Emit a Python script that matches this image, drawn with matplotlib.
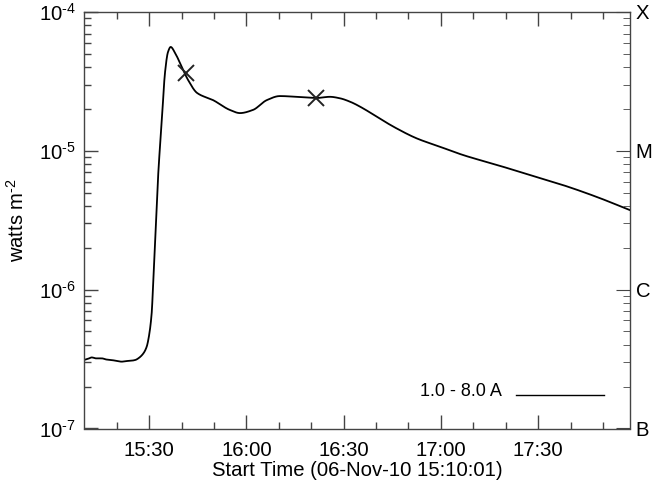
import matplotlib
matplotlib.use("Agg")
import matplotlib.pyplot as plt
import numpy as np
from matplotlib.ticker import FixedLocator, FuncFormatter, LogLocator, NullFormatter

plt.rcParams['font.family'] = ['Liberation Sans', 'DejaVu Sans']
plt.rcParams['mathtext.fontset'] = 'custom'
plt.rcParams['mathtext.rm'] = 'Liberation Sans'
plt.rcParams['mathtext.it'] = 'Liberation Sans:italic'
plt.rcParams['mathtext.bf'] = 'Liberation Sans:bold'

# minutes after 15:10:01
t_min = [0.0, 1.2, 2.3, 3.6, 5.4, 6.8, 8.45, 10.0, 11.5, 13.0, 14.6, 15.8, 16.65,
         18.2, 19.24, 19.73, 20.78, 21.28, 22.02, 22.82, 23.87, 24.88, 25.81,
         26.64, 28.0, 29.5, 32.0, 34.8,
         39.7, 44.9, 48.0, 52.0, 56.3, 60.3, 66.5, 71.4, 75.76, 78.85, 81.93,
         86.03, 90.16, 96.33, 102.5, 109.7, 116.8, 127.3, 137.4, 147.6, 158.1, 168.3]
flux = [3.12e-7, 3.18e-7, 3.25e-7, 3.2e-7, 3.2e-7, 3.14e-7, 3.11e-7, 3.07e-7, 3.03e-7,
        3.06e-7, 3.08e-7, 3.12e-7, 3.2e-7,
        3.47e-7, 3.88e-7, 4.34e-7, 6.77e-7, 1.17e-6, 2.69e-6, 6.92e-6, 1.59e-5,
        3.64e-5, 5.15e-5, 5.60e-5, 5.07e-5, 4.30e-5, 3.24e-5, 2.61e-5,
        2.32e-5, 1.97e-5, 1.87e-5, 1.97e-5, 2.32e-5, 2.48e-5, 2.44e-5, 2.40e-5,
        2.45e-5, 2.39e-5, 2.26e-5,
        2.02e-5, 1.76e-5, 1.45e-5, 1.23e-5, 1.07e-5, 9.33e-6, 7.91e-6, 6.70e-6,
        5.67e-6, 4.65e-6, 3.74e-6]

mark_t = [31.4, 71.4]
mark_flux = [3.64e-5, 2.40e-5]

x_major_t = [19.98, 49.98, 79.98, 109.98, 139.98]
x_major_labels = ['15:30', '16:00', '16:30', '17:00', '17:30']
x_minor_t = [-0.02, 9.98, 29.98, 39.98, 59.98, 69.98, 89.98, 99.98,
             119.98, 129.98, 149.98, 159.98]
right_labels = ['B', 'C', 'M', 'X']
right_levels = [1e-7, 1e-6, 1e-5, 1e-4]
legend_label = '1.0 - 8.0 A'


def pchip(x, y, xn):
    h = np.diff(x)
    d = np.diff(y) / h
    m = np.zeros_like(y)
    for i in range(1, len(y) - 1):
        if d[i - 1] * d[i] <= 0:
            m[i] = 0
        else:
            w1 = 2 * h[i] + h[i - 1]
            w2 = h[i] + 2 * h[i - 1]
            m[i] = (w1 + w2) / (w1 / d[i - 1] + w2 / d[i])
    m[0] = d[0]
    m[-1] = d[-1]
    idx = np.clip(np.searchsorted(x, xn) - 1, 0, len(x) - 2)
    hh = h[idx]
    s = (xn - x[idx]) / hh
    h00 = 2 * s**3 - 3 * s**2 + 1
    h10 = s**3 - 2 * s**2 + s
    h01 = -2 * s**3 + 3 * s**2
    h11 = s**3 - s**2
    return h00 * y[idx] + h10 * hh * m[idx] + h01 * y[idx + 1] + h11 * hh * m[idx + 1]


tt = np.array(t_min)
ly = np.log10(np.array(flux))
tf = np.linspace(tt[0], tt[-1], 2000)
lyf = pchip(tt, ly, tf)

FS = 14.6
fig = plt.figure(figsize=(6.71, 4.83), dpi=100)
ax = fig.add_axes([84.3 / 671, 1 - 428.5 / 483, (630 - 84.3) / 671, (428.5 - 12) / 483])
ax.plot(tf, 10 ** lyf, color='black', lw=1.3)
ax.plot(mark_t, mark_flux, linestyle='none', marker='x', ms=11, mew=1.4, color='#222222')

ax.set_yscale('log')
ax.set_ylim(1e-7, 1e-4)
ax.set_xlim(0, 168.3)

ax.xaxis.set_major_locator(FixedLocator(x_major_t))
ax.xaxis.set_major_formatter(FuncFormatter(lambda v, p: x_major_labels[int(round((v - 19.98) / 30))]))
ax.xaxis.set_minor_locator(FixedLocator(x_minor_t))
ax.yaxis.set_major_locator(FixedLocator([1e-7, 1e-6, 1e-5, 1e-4]))
ax.yaxis.set_major_formatter(FuncFormatter(
    lambda v, p: r'$\mathregular{10^{\text{-%d}}}$' % abs(int(round(np.log10(v))))))
ax.yaxis.set_minor_locator(LogLocator(base=10, subs=np.arange(2, 10)))
ax.yaxis.set_minor_formatter(NullFormatter())

ax.tick_params(which='both', direction='in', top=True, right=False, labelsize=FS, color='#444444')
ax.tick_params(which='major', length=10, width=1.0)
ax.tick_params(which='minor', length=5, width=1.0)
ax.tick_params(axis='x', pad=9)
ax.tick_params(axis='y', pad=6)

for s in ax.spines.values():
    s.set_color('#444444')
    s.set_linewidth(1.0)

ax2 = ax.twinx()
ax2.set_yscale('log')
ax2.set_ylim(1e-7, 1e-4)
ax2.yaxis.set_major_locator(FixedLocator(right_levels))
ax2.yaxis.set_major_formatter(FuncFormatter(lambda v, p: right_labels[int(round(np.log10(v))) + 7]))
ax2.yaxis.set_minor_locator(LogLocator(base=10, subs=np.arange(2, 10)))
ax2.yaxis.set_minor_formatter(NullFormatter())
ax2.tick_params(which='both', direction='in', labelsize=FS, color='#444444', pad=4)
ax2.tick_params(which='major', length=10)
ax2.tick_params(which='minor', length=5)
for s in ax2.spines.values():
    s.set_visible(False)

ax.set_xlabel('Start Time (06-Nov-10 15:10:01)', fontsize=FS, labelpad=1)
ax.set_ylabel(r'watts m$^{\mathregular{\text{-2}}}$', fontsize=FS, labelpad=8)

# legend
ax.text(0.766, 0.088, legend_label, transform=ax.transAxes, fontsize=13, ha='right', va='center')
ax.plot([0.791, 0.952], [0.081, 0.081], transform=ax.transAxes, color='black', lw=1.0)

fig.savefig('out.png', dpi=100)
